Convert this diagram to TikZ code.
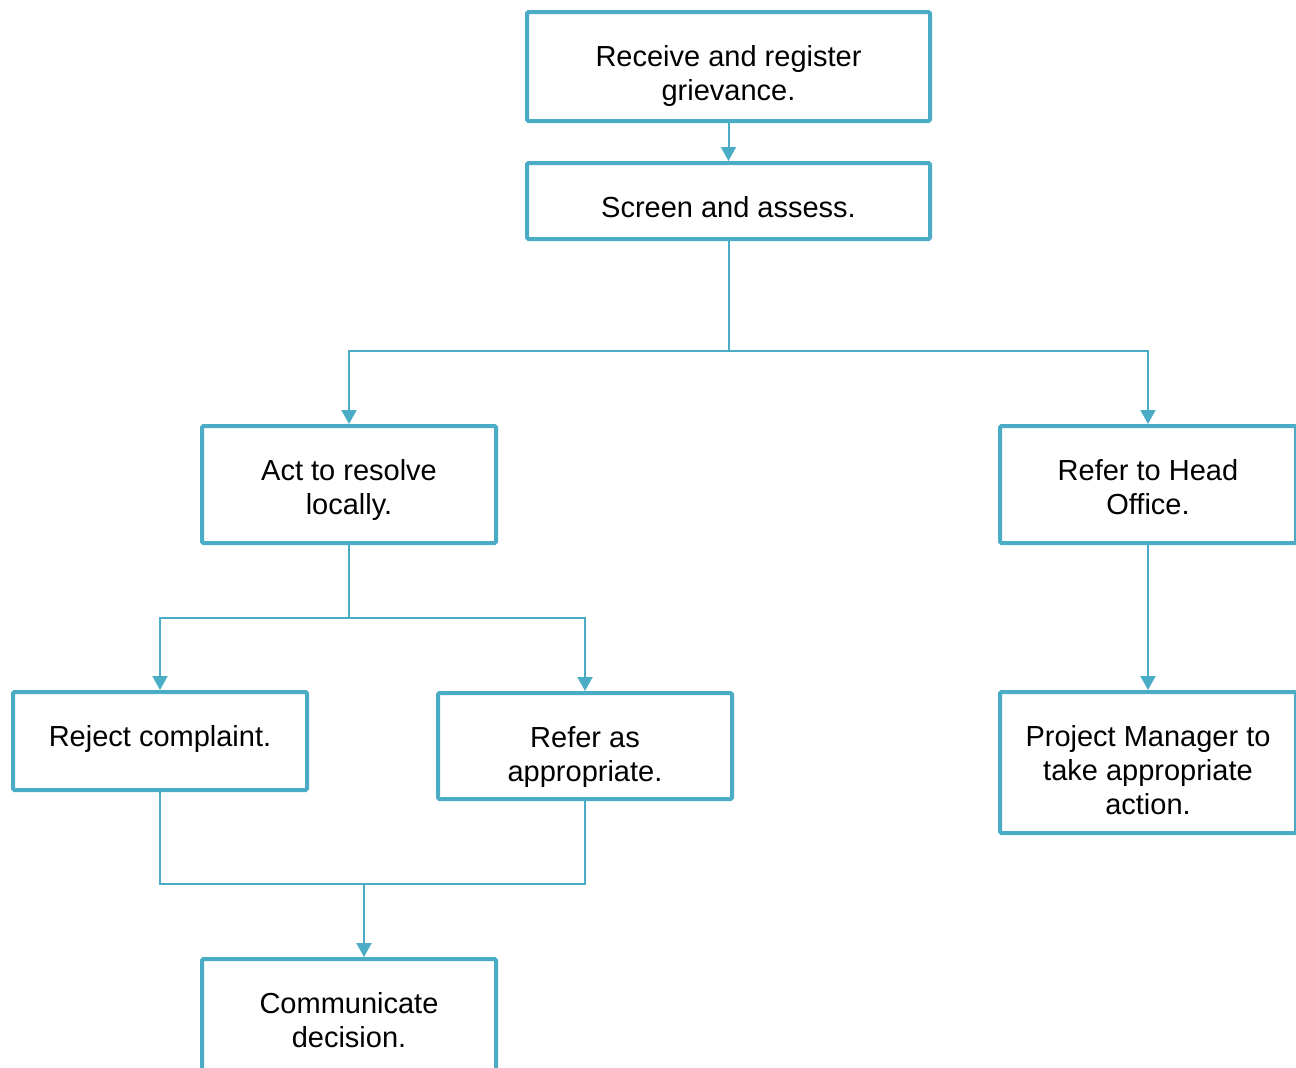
\documentclass[tikz,border=0pt]{standalone}
\usepackage{fontspec}
\setmainfont{Liberation Sans}
\usetikzlibrary{arrows.meta}
\definecolor{grvblue}{RGB}{75,172,198}
\begin{document}
\begin{tikzpicture}[x=1pt,y=-1pt,>={Triangle[width=15pt,length=14pt]},
  box/.style={draw=grvblue,line width=4pt,rounded corners=1.5pt,fill=white,align=center,
    inner sep=0pt,text height=54.5pt,font=\fontsize{29}{34}\selectfont},
  twolines/.style={text height=88.5pt},
  threelines/.style={text height=122.5pt},
  link/.style={draw=grvblue,line width=2pt}]
\clip (0,0) rectangle (1296,1068); % page
% boxes (text hangs from the top edge)
\node[box,twolines,minimum width=403pt,text depth=20.5pt] (rcv) at (728.5,66.5) {Receive and register\\grievance.};
\node[box,minimum width=403pt,text depth=21.5pt] (scr) at (728.5,201) {Screen and assess.};
\node[box,twolines,minimum width=294pt,text depth=28.5pt] (act) at (349,484.5) {Act to resolve\\locally.};
\node[box,twolines,minimum width=296pt,text depth=28.5pt] (refho) at (1148,484.5) {Refer to Head\\Office.};
\node[box,minimum width=294pt,text depth=43.5pt] (rej) at (160,741) {Reject complaint.};
\node[box,twolines,minimum width=294pt,text depth=17.5pt] (refap) at (585,746) {Refer as\\appropriate.};
\node[box,threelines,minimum width=296pt,text depth=18.5pt] (pm) at (1148,762.5) {Project Manager to\\take appropriate\\action.};
\node[box,twolines,minimum width=294pt,text depth=33.5pt] (comm) at (349,1020) {Communicate\\decision.};
% branch points
\coordinate (j1) at (728.5,351);
\coordinate (j2) at (349,618);
\coordinate (j3) at (364,884);
% connectors
\draw[link,->] (rcv) -- (scr);
\draw[link,->] (scr.south) -- (j1) -| (act.north);
\draw[link,->] (j1) -| (refho.north);
\draw[link,->] (act.south) -- (j2) -| (rej.north);
\draw[link,->] (j2) -| (refap.north);
\draw[link,->] (refho) -- (pm);
\draw[link] (rej.south) |- (j3);
\draw[link] (refap.south) |- (j3);
\draw[link,->] (j3) -- (j3 |- comm.north);
\end{tikzpicture}
\end{document}
